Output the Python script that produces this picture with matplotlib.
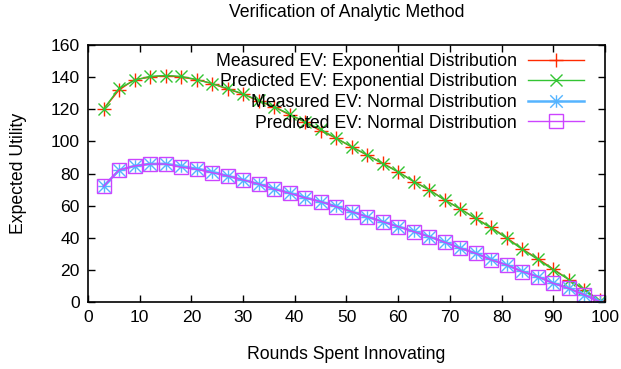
import numpy as np
import matplotlib.pyplot as plt
from matplotlib.path import Path

plt.rcParams['font.family'] = ['Liberation Sans', 'DejaVu Sans']

# rounds spent innovating
rounds = np.arange(3, 100, 3)

# exponential distribution
exp_measured = [120, 132, 138.5, 140, 141, 140, 138.5, 136, 132.5, 129.5,
                125, 121.5, 116.5, 112, 106.5, 102, 96.5, 91.5, 86.5, 81,
                75, 70, 63.5, 58, 52, 46.5, 40, 33, 27, 20.5, 14, 7.5, 1]
exp_predicted = [120, 133, 138, 140.5, 141, 140.5, 138.5, 136, 133, 129.5,
                 125.5, 121.5, 117, 112, 107.5, 102, 96.7, 91.5, 86, 81,
                 75, 69.7, 63.5, 58, 52, 46, 39.7, 32.7, 26.5, 20, 14, 8, 0.5]

# normal distribution
norm_measured = [72, 82, 84.7, 86, 86, 84.5, 83, 81, 78.5, 76,
                 73.5, 70.5, 68, 65, 62.5, 59.5, 56.3, 53, 50, 47,
                 44, 40.7, 37.3, 33.6, 30.3, 26.5, 23, 19, 15.8, 11.8, 8.5, 4.5, 0.3]
norm_predicted = [72, 82.2, 84.7, 85.9, 85.9, 83.9, 82.6, 80.5, 78.5, 76,
                  73.5, 70.2, 67.7, 64.8, 62.5, 59.3, 56.2, 53.1, 50, 46.9,
                  43.8, 40.7, 37.2, 33.4, 30.3, 26.2, 23, 18.9, 15.8, 11.6, 8.5, 4.4, 0.2]

labels = ['Measured EV: Exponential Distribution',
          'Predicted EV: Exponential Distribution',
          'Measured EV: Normal Distribution',
          'Predicted EV: Normal Distribution']

# gnuplot style asterisk (+ and x together)
star = Path([(-1, 0), (1, 0), (0, -1), (0, 1),
             (-1, -1), (1, 1), (-1, 1), (1, -1)],
            [Path.MOVETO, Path.LINETO] * 4)

fig = plt.figure(figsize=(6.21, 3.69), dpi=100)
ax = fig.add_axes([0.1417, 0.1816, 0.8325, 0.6964])

ax.plot(rounds, exp_measured, color='#ff2a00', lw=1, marker='+', ms=10,
        mew=1, label=labels[0])
ax.plot(rounds, exp_predicted, color='#33c433', lw=1, marker='x', ms=9,
        mew=1, label=labels[1])
ax.plot(rounds, norm_measured, color='#55b4ff', lw=1.8, marker=star, ms=9,
        mew=1, label=labels[2])
ax.plot(rounds, norm_predicted, color='#cc44ff', lw=1, marker='s', ms=10.5,
        mew=1, mfc='none', label=labels[3])

ax.set_xlim(0, 100)
ax.set_ylim(0, 160)
ax.set_xticks(np.arange(0, 101, 10))
ax.set_yticks(np.arange(0, 161, 20))
ax.tick_params(direction='in', top=True, right=True, length=5, width=1,
               labelsize=12.6, pad=6)
for s in ax.spines.values():
    s.set_linewidth(1.2)

ax.set_title('Verification of Analytic Method', fontsize=12.7, pad=20)
ax.set_xlabel('Rounds Spent Innovating', fontsize=12.7, labelpad=15)
ax.set_ylabel('Expected Utility', fontsize=12.7, labelpad=17)

leg = ax.legend(loc='upper right', frameon=False, markerfirst=False,
                fontsize=12.7, handlelength=3.2, labelspacing=0.2,
                borderaxespad=0.05, handletextpad=0.6,
                bbox_to_anchor=(0.975, 1.0))
leg._legend_box._children[-1]._children[0].align = 'right'

fig.savefig('out.png', dpi=100)
